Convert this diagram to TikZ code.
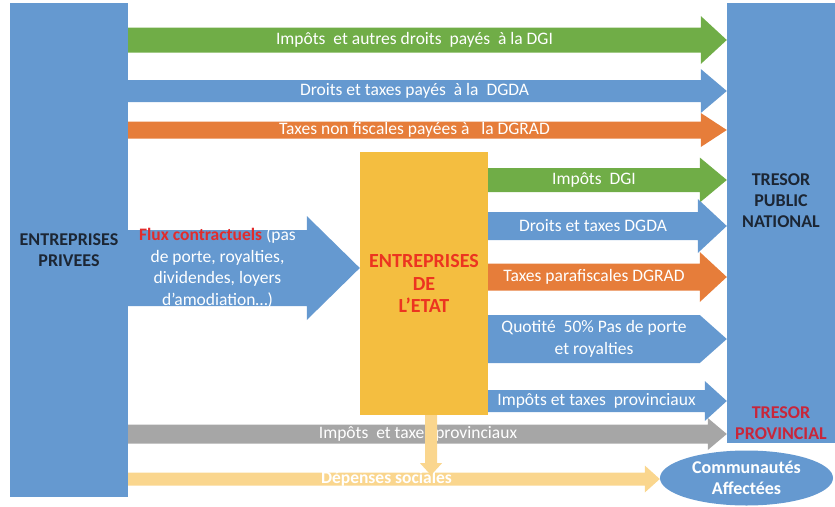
\documentclass[tikz,border=0pt]{standalone}
\usepackage{fontspec}
\setmainfont{Carlito}
\usetikzlibrary{calc,shapes.geometric}

\definecolor{bleu}{RGB}{101,153,208}
\definecolor{vert}{RGB}{112,173,71}
\definecolor{orange}{RGB}{230,125,58}
\definecolor{gris}{RGB}{166,166,166}
\definecolor{jaune}{RGB}{244,190,64}
\definecolor{jaunepale}{RGB}{250,214,142}
\definecolor{encre}{RGB}{28,38,52}
\definecolor{rouge}{RGB}{236,52,32}
\definecolor{rougeflux}{RGB}{226,44,44}
\definecolor{cramoisi}{RGB}{200,38,58}

\tikzset{
  box/.style={fill=bleu, inner sep=0pt, align=center, text=encre,
    font=\fontsize{18}{21}\selectfont\bfseries},
  flowtext/.style={text=white, align=center, inner sep=0pt,
    font=\fontsize{17.5}{21.5}\selectfont},
}

% block arrow: colour, from, to, y, body half, head half, head length, text
\newcommand{\flux}[8]{%
  \coordinate (s) at (#2 |- 0,#4);
  \coordinate (t) at (#3 |- 0,#4);
  \fill[#1] ($(s)+(0,-#5)$) -- ($(t)+(-#7,-#5)$) -- ($(t)+(-#7,-#6)$) -- (t)
    -- ($(t)+(-#7,#6)$) -- ($(t)+(-#7,#5)$) -- ($(s)+(0,#5)$) -- cycle;
  \node[flowtext] (f#4) at ($(s)!0.5!(t)+(-#7/2,0)$) {#8};
}

\begin{document}
\begin{tikzpicture}[x=1pt,y=-1pt]
    \useasboundingbox (0,0) rectangle (835,506);

    \node[box, minimum width=118pt, minimum height=494pt] (priv) at (69,250) {ENTREPRISES\\PRIVEES};
    \node[box, minimum width=108pt, minimum height=440pt] (tresor) at (781,223) {};
    \node[box, fill=jaune, text=rouge, minimum width=128pt, minimum height=263pt,
      font=\fontsize{20}{22.5}\selectfont\bfseries] (etat) at (424,283.5) {ENTREPRISES\\DE\\L’ETAT};
    \node[box, ellipse, text=white, minimum width=173pt, minimum height=55pt] (comm) at (746.5,478) {Communautés\\Affectées};

    \flux{vert}{priv.east}{tresor.west}{40}{12.5}{24}{26}{Impôts\ \ et autres droits\ \ payés\ \ à la DGI}
    \flux{bleu}{priv.east}{tresor.west}{91}{11}{22}{26}{Droits et taxes payés\ \ à la\ \ DGDA}
    \flux{orange}{priv.east}{tresor.west}{130}{8.5}{17}{26}{Taxes non fiscales payées à\ \ \ la DGRAD}

    \flux{bleu}{priv.east}{etat.west}{268}{38}{52}{53}{\textcolor{rougeflux}{\bfseries Flux contractuels} (pas\\de porte, royalties,\\dividendes, loyers\\d’amodiation…)}

    \flux{vert}{etat.east}{tresor.west}{180}{12}{22.5}{27}{Impôts\ \ DGI}
    \flux{bleu}{etat.east}{tresor.west}{226}{14}{27}{29}{Droits et taxes DGDA}
    \flux{orange}{etat.east}{tresor.west}{277}{13.5}{25}{27}{Taxes parafiscales DGRAD}
    \flux{bleu}{etat.east}{tresor.west}{339}{24}{24}{27}{Quotité\ \ 50\% Pas de porte\\et royalties}
    \flux{bleu}{etat.east}{tresor.west}{401}{11}{20}{22}{Impôts et taxes\ \ provinciaux}

    \flux{gris}{priv.east}{tresor.west}{434}{9.5}{16}{19}{Impôts\ \ et taxes provinciaux}
    \flux{jaunepale}{priv.east}{comm.west}{479}{6.5}{13.5}{15}{\bfseries Dépenses sociales}

    \coordinate (v) at ($(etat.south)+(7,0)$);
    \coordinate (vb) at ($(v)+(0,60)$);
    \fill[jaunepale] ($(v)+(-6,0)$) -- ($(vb)+(-6,-12)$) -- ($(vb)+(-11,-12)$) -- (vb)
      -- ($(vb)+(11,-12)$) -- ($(vb)+(6,-12)$) -- ($(v)+(6,0)$) -- cycle;

    \node[box, fill=none] (nat) at (781,201) {TRESOR\\PUBLIC\\NATIONAL};
    \node[box, fill=none, text=cramoisi] (prov) at (781,423) {TRESOR\\PROVINCIAL};
\end{tikzpicture}
\end{document}
